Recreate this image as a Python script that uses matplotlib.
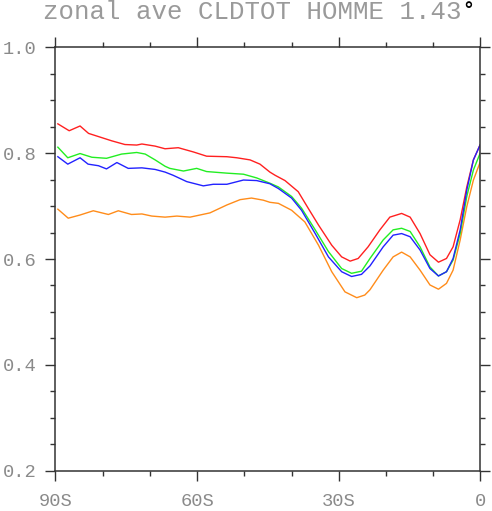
import numpy as np
import matplotlib
matplotlib.use("Agg")
import matplotlib.pyplot as plt

# zonal mean total cloud fraction
lat_red = [-89.5, -87.1, -84.8, -83.0, -80.9, -78.1, -75.3, -72.8, -71.7, -68.9, -66.8,
           -64.0, -60.8, -58.0, -53.7, -51.6, -48.8, -46.7, -44.6, -43.5, -41.4, -38.6,
           -36.5, -34.3, -31.5, -29.4, -27.6, -25.9, -23.8, -21.3, -19.2, -16.7, -14.9,
           -12.8, -10.7, -8.9, -7.2, -5.8, -4.3, -2.9, -1.5, -0.1]
cld_red = [.855, .842, .851, .837, .831, .823, .816, .815, .817, .813, .808,
           .810, .802, .794, .793, .791, .787, .779, .764, .758, .748, .727,
           .696, .664, .626, .604, .596, .601, .623, .655, .679, .686, .679,
           .648, .608, .594, .601, .623, .674, .736, .787, .815]

lat_green = [-89.5, -87.4, -84.8, -82.3, -79.2, -76.0, -72.8, -71.0, -68.9, -66.8, -65.8,
             -62.9, -60.1, -58.0, -53.7, -50.2, -47.4, -44.6, -42.8, -40.0, -37.9, -35.0,
             -32.2, -29.4, -27.3, -25.2, -23.4, -20.6, -18.5, -16.7, -14.9, -12.8, -10.7,
             -8.9, -7.2, -5.8, -4.3, -2.9, -1.5, -0.1]
cld_green = [.811, .791, .799, .792, .790, .798, .801, .798, .787, .775, .771,
             .766, .771, .765, .762, .760, .753, .743, .736, .718, .696, .655,
             .614, .582, .573, .577, .601, .636, .655, .658, .652, .623, .585,
             .568, .576, .598, .648, .718, .768, .799]

lat_blue = [-89.5, -87.4, -84.8, -83.1, -80.9, -79.2, -77.0, -74.6, -71.7, -68.9, -66.8,
            -65.1, -62.2, -58.7, -56.6, -53.7, -50.2, -47.4, -44.6, -42.8, -40.0, -37.9,
            -35.0, -32.2, -29.4, -27.3, -25.2, -23.4, -20.6, -18.5, -16.7, -14.9, -12.8,
            -10.7, -8.9, -7.2, -5.8, -4.3, -2.9, -1.5, -0.1]
cld_blue = [.793, .779, .791, .779, .776, .770, .782, .771, .772, .769, .764,
            .758, .746, .738, .741, .741, .749, .748, .742, .733, .715, .692,
            .648, .604, .576, .567, .571, .587, .623, .645, .648, .642, .617,
            .582, .568, .576, .601, .655, .730, .787, .815]

lat_orange = [-89.5, -87.3, -84.8, -82.0, -78.8, -76.7, -73.9, -71.7, -69.6, -66.8, -64.3,
              -61.5, -57.3, -53.7, -50.9, -48.5, -46.0, -44.6, -42.8, -40.0, -37.2, -34.3,
              -31.5, -28.7, -26.2, -24.5, -23.4, -20.6, -18.5, -16.7, -14.9, -12.8, -10.7,
              -8.9, -7.2, -5.8, -4.3, -2.9, -1.5, -0.1]
cld_orange = [.694, .677, .683, .691, .684, .691, .684, .685, .681, .679, .681,
              .679, .687, .702, .712, .715, .711, .707, .705, .692, .670, .626,
              .576, .538, .527, .532, .542, .579, .604, .613, .604, .579, .551,
              .543, .554, .579, .636, .699, .749, .782]

xticks = [-90, -60, -30, 0]
xticklabels = ['90S', '60S', '30S', '0']
yticks = [0.2, 0.4, 0.6, 0.8, 1.0]

txt_gray = '#8a8a8a'
font = ['Liberation Mono', 'DejaVu Sans Mono']

fig = plt.figure(figsize=(4.92, 5.11), dpi=100)
ax = fig.add_axes([0.1128, 0.0783, 0.8638, 0.8297])

ax.plot(lat_orange, cld_orange, color='#ff8c1a', lw=1.0)
ax.plot(lat_red, cld_red, color='#ff2020', lw=1.0)
ax.plot(lat_green, cld_green, color='#22ee22', lw=1.0)
ax.plot(lat_blue, cld_blue, color='#2222ff', lw=1.0)

ax.set_xlim(-90, 0)
ax.set_ylim(0.2, 1.0)
ax.set_xticks(xticks)
ax.set_xticklabels(xticklabels)
ax.set_xticks(np.arange(-80, 0, 10), minor=True)
ax.set_yticks(yticks)
ax.set_yticklabels([f'{v:.1f}' for v in yticks])
ax.set_yticks(np.arange(0.25, 1.0, 0.05), minor=True)

for s in ax.spines.values():
    s.set_color('#333333')
    s.set_linewidth(1.1)
ax.tick_params(which='both', direction='out', top=True, right=True,
               color='#333333', width=1.0)
ax.tick_params(which='major', length=7.5, labelsize=13.5, labelcolor=txt_gray)
ax.tick_params(axis='x', which='major', pad=8)
ax.tick_params(axis='y', which='major', pad=6)
ax.tick_params(which='minor', length=3.6)
for lab in ax.get_xticklabels() + ax.get_yticklabels():
    lab.set_family(font)

title = fig.text(0.087, 0.963, 'zonal ave CLDTOT HOMME 1.43', family=font,
                 fontsize=18.5, color='#9a9a9a', ha='left', va='baseline')
fig.canvas.draw()
bb = title.get_window_extent()
fig.text(bb.x1 / fig.bbox.width + 0.003, 0.968, '\u00b0', family=['DejaVu Sans'],
         fontsize=14, fontweight='bold', color='black', ha='left', va='baseline')

fig.savefig('out.png', dpi=100)
